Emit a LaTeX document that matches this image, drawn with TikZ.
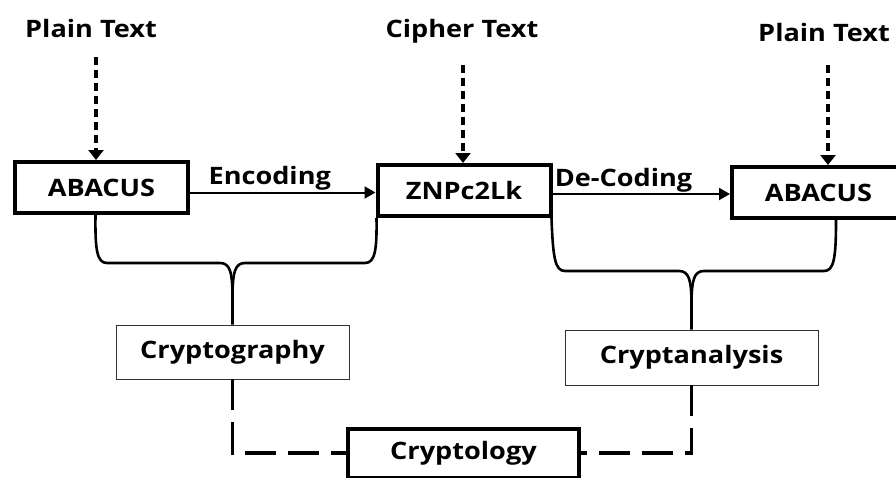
\documentclass[tikz,border=0pt]{standalone}
\usepackage{fontspec}
\setmainfont[FakeStretch=1.13]{Open Sans}
\usetikzlibrary{arrows.meta}

\begin{document}
\begin{tikzpicture}[
    x=1pt, y=-1pt,
    font=\bfseries\fontsize{24}{28}\selectfont,
    label/.style={inner sep=1pt},
    thickbox/.style={draw=black, line width=4pt, minimum width=173pt, minimum height=51pt, inner sep=0pt},
    thinbox/.style={draw=black!80, line width=0.8pt, inner sep=0pt},
    arr/.style={line width=2pt, -{Triangle[length=11pt,width=12pt]}},
    dasharr/.style={line width=3.4pt, dash pattern=on 8pt off 5pt, -{Triangle[length=10pt,width=15pt]}},
    brace/.style={line width=2.6pt},
    dashline/.style={line width=3.2pt, dash pattern=on 31pt off 12pt}
]
\useasboundingbox (0,0) rectangle (896,477);
\clip (0,0) rectangle (896,477);

\node[label](pt1) at (91,28) {Plain Text};
\node[label](ct) at (462,31) {Cipher Text};
\node[label](pt2) at (824,32) {Plain Text};

\node[thickbox](abc1) at (101.5,187.5) {ABACUS};
\node[thickbox](zn) at (464,190.5) {ZNPc2Lk};
\node[thickbox](abc2) at (818.5,192.5) {ABACUS};

\node[thinbox, minimum width=233pt, minimum height=54pt](cgraphy) at (232.5,352) {Cryptography};
\node[thinbox, minimum width=253pt, minimum height=55pt](canal) at (691.5,357.5) {Cryptanalysis};
\node[thickbox, minimum width=231pt, minimum height=49pt](clogy) at (463.5,453) {Cryptology};

% dashed inputs
\coordinate (d1) at (96,57);
\coordinate (d2) at (463,65);
\coordinate (d3) at (828,65);
\draw[dasharr] (d1) -- (d1 |- abc1.north);
\draw[dasharr] (d2) -- (d2 |- zn.north);
\draw[dasharr] (d3) -- (d3 |- abc2.north);

\draw[arr] ([yshift=-5pt]abc1.east) -- ([yshift=-5pt]abc1.east -| zn.west)
    node[label, above, pos=0.43] {Encoding};
\draw[arr] ([yshift=-3.5pt]zn.east) -- ([yshift=-3.5pt]zn.east -| abc2.west)
    node[label, above, pos=0.4] {De-Coding};

% braces
\draw[brace] ([xshift=-6pt]abc1.south) .. controls (95,250) and (97,263) .. (107,263)
    -- (220,263) .. controls (230,263) and (232.5,272) .. (232.5,298) -- (cgraphy.north);
\draw[brace] ([xshift=1pt]zn.south west) .. controls (377,250) and (375,263) .. (365,263)
    -- (245,263) .. controls (235,263) and (232.5,272) .. (232.5,298);
\draw[brace] ([xshift=-1pt]zn.south east) .. controls (553,258) and (555,271) .. (565,271)
    -- (679,271) .. controls (689,271) and (691.5,280) .. (691.5,305) -- (canal.north);
\draw[brace] ([xshift=17.5pt]abc2.south) .. controls (836,258) and (834,271) .. (824,271)
    -- (704,271) .. controls (694,271) and (691.5,280) .. (691.5,305);

% to cryptology
\draw[dashline] (cgraphy.south) |- (clogy.west);
\draw[dashline] (canal.south) |- (clogy.east);
\end{tikzpicture}
\end{document}
